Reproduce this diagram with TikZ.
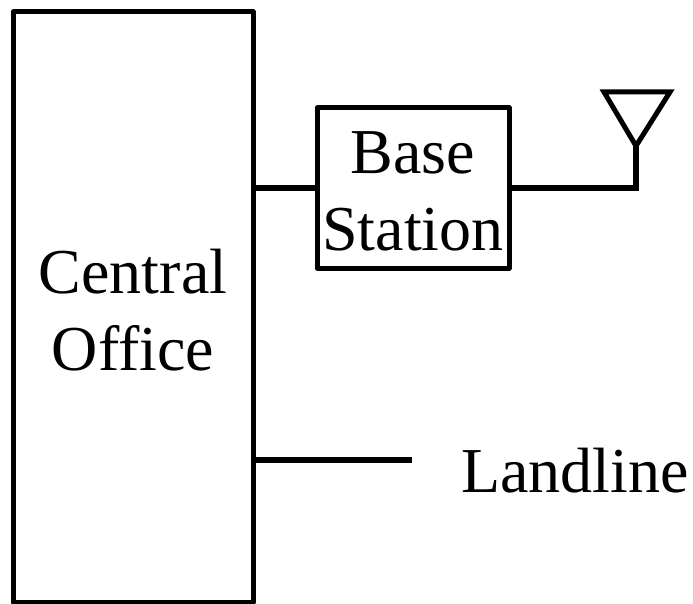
\documentclass[tikz,border=0pt]{standalone}
\usepackage{fontspec}
\setmainfont{Liberation Serif}
\tikzstyle{block}=[draw, line width=5pt, line join=round, inner sep=0pt]
\tikzstyle{caption}=[align=center, inner sep=0pt, font=\fontsize{64}{77}\selectfont]
\tikzstyle{wire}=[line width=5.4pt]

\begin{document}
\begin{tikzpicture}[x=1pt, y=-1pt]
    \useasboundingbox (0, 0) rectangle (693, 604);
    \node[block, minimum width=240pt, minimum height=590pt] (office) at (133, 307) {};
    \node[caption] (officetext) at (133, 310) {Central\\Office};
    \node[block, minimum width=192pt, minimum height=160pt] (base) at (413, 188) {};
    \node[caption] (basetext) at (413, 191) {Base\\Station};
    \node[caption, anchor=base west] (land) at (461, 492) {Landline};
    \coordinate (lineend) at (412, 460);
    \coordinate (foot) at (636, 188);
    \coordinate (apex) at (636, 146);
    \coordinate (tl) at (604, 92);
    \coordinate (tr) at (670, 92);
    \draw[wire] (office.east |- base) -- (base.west);
    \draw[wire] (base.east) -- (foot) -- (apex);
    \draw[block, line join=miter] (apex) -- (tl) -- (tr) -- cycle;
    \draw[wire] (office.east |- lineend) -- (lineend);
\end{tikzpicture}
\end{document}
